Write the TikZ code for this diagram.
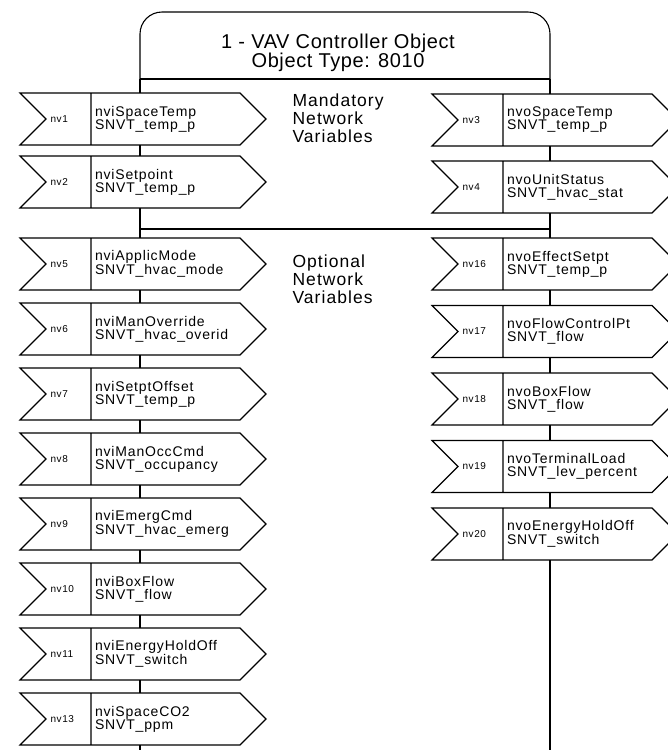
\documentclass[tikz,border=0pt]{standalone}
\usepackage{fontspec}
\setmainfont{Liberation Sans}
\newfontfamily\headfont{Liberation Sans}[LetterSpace=3]
\newfontfamily\wfont{Liberation Sans}[LetterSpace=6]
\usetikzlibrary{positioning}

\begin{document}
\begin{tikzpicture}[
	x=1pt, y=-1pt,
	line width=1.1pt,
	node distance=13pt,
	body/.style={fill=white, minimum width=149pt, minimum height=52pt, text width=141pt, inner xsep=4pt, inner ysep=0pt, outer sep=0pt, align=left, font=\wfont\fontsize{14}{13}\selectfont},
	num/.style={anchor=west, inner sep=0pt, font=\wfont\fontsize{10}{10}\selectfont},
	side/.style={anchor=west, align=left, inner sep=0pt, font=\wfont\fontsize{17.5}{18}\selectfont}
	]
	\useasboundingbox (0,0) rectangle (668,753);
	% object header and the two bus lines
	\node[minimum width=410pt, minimum height=67pt, inner sep=0pt, outer sep=0pt] (obj) at (345,45.5) {};
	\node[align=center, font=\headfont\fontsize{20}{19}\selectfont] (title) at (338,53) {1 - VAV Controller Object\\Object Type: 8010};
	\coordinate (lend) at (140,750);
	\coordinate (rend) at (550,750);
	\coordinate (lopt) at (140,229);
	\coordinate (ropt) at (550,229);
	\draw[rounded corners=22pt] (obj.south west) |- (obj.north) -| (obj.south east);
	\draw (obj.south west) -- (obj.south east);
	\draw (obj.south west) -- (lend);
	\draw (obj.south east) -- (rend);
	\draw (lopt) -- (ropt);
	\node[side] (mand) at (292,118) {Mandatory\\Network\\Variables};
	\node[side] (opt) at (292,279) {Optional\\Network\\Variables};
	% inputs
	\node[body] (spt) at (165.5,119) {nviSpaceTemp\\SNVT\_temp\_p};
	\node[body, below=11pt of spt] (stp) {nviSetpoint\\SNVT\_temp\_p};
	\node[body] (amode) at (165.5,264) {nviApplicMode\\SNVT\_hvac\_mode};
	\node[body, below=of amode] (movr) {nviManOverride\\SNVT\_hvac\_overid};
	\node[body, below=of movr] (soff) {nviSetptOffset\\SNVT\_temp\_p};
	\node[body, below=of soff] (occ) {nviManOccCmd\\SNVT\_occupancy};
	\node[body, below=of occ] (emerg) {nviEmergCmd\\SNVT\_hvac\_emerg};
	\node[body, below=of emerg] (bflow) {nviBoxFlow\\SNVT\_flow};
	\node[body, below=of bflow] (ehold) {nviEnergyHoldOff\\SNVT\_switch};
	\node[body, below=of ehold] (co2) {nviSpaceCO2\\SNVT\_ppm};
	% outputs
	\node[body] (ospt) at (577.5,120) {nvoSpaceTemp\\SNVT\_temp\_p};
	\node[body, below=15pt of ospt] (ustat) {nvoUnitStatus\\SNVT\_hvac\_stat};
	\node[body] (eset) at (577.5,264) {nvoEffectSetpt\\SNVT\_temp\_p};
	\node[body, below=15.5pt of eset] (fcpt) {nvoFlowControlPt\\SNVT\_flow};
	\node[body, below=15.5pt of fcpt] (obflow) {nvoBoxFlow\\SNVT\_flow};
	\node[body, below=15.5pt of obflow] (tload) {nvoTerminalLoad\\SNVT\_lev\_percent};
	\node[body, below=15.5pt of tload] (oehold) {nvoEnergyHoldOff\\SNVT\_switch};
	% numbers
	\node[num] (spt-n) at ([xshift=-41pt]spt.west) {nv1};
	\node[num] (stp-n) at ([xshift=-41pt]stp.west) {nv2};
	\node[num] (amode-n) at ([xshift=-41pt]amode.west) {nv5};
	\node[num] (movr-n) at ([xshift=-41pt]movr.west) {nv6};
	\node[num] (soff-n) at ([xshift=-41pt]soff.west) {nv7};
	\node[num] (occ-n) at ([xshift=-41pt]occ.west) {nv8};
	\node[num] (emerg-n) at ([xshift=-41pt]emerg.west) {nv9};
	\node[num] (bflow-n) at ([xshift=-41pt]bflow.west) {nv10};
	\node[num] (ehold-n) at ([xshift=-41pt]ehold.west) {nv11};
	\node[num] (co2-n) at ([xshift=-41pt]co2.west) {nv13};
	\node[num] (ospt-n) at ([xshift=-41pt]ospt.west) {nv3};
	\node[num] (ustat-n) at ([xshift=-41pt]ustat.west) {nv4};
	\node[num] (eset-n) at ([xshift=-41pt]eset.west) {nv16};
	\node[num] (fcpt-n) at ([xshift=-41pt]fcpt.west) {nv17};
	\node[num] (obflow-n) at ([xshift=-41pt]obflow.west) {nv18};
	\node[num] (tload-n) at ([xshift=-41pt]tload.west) {nv19};
	\node[num] (oehold-n) at ([xshift=-41pt]oehold.west) {nv20};
	% arrow outlines
	\foreach \b in {spt,stp,amode,movr,soff,occ,emerg,bflow,ehold,co2,ospt,ustat,eset,fcpt,obflow,tload,oehold}
		\draw ([xshift=-71pt]\b.north west) -- (\b.north east) -- ([xshift=26pt]\b.east) -- (\b.south east) -- ([xshift=-71pt]\b.south west) -- ([xshift=-45pt]\b.west) -- cycle (\b.north west) -- (\b.south west);
\end{tikzpicture}
\end{document}
